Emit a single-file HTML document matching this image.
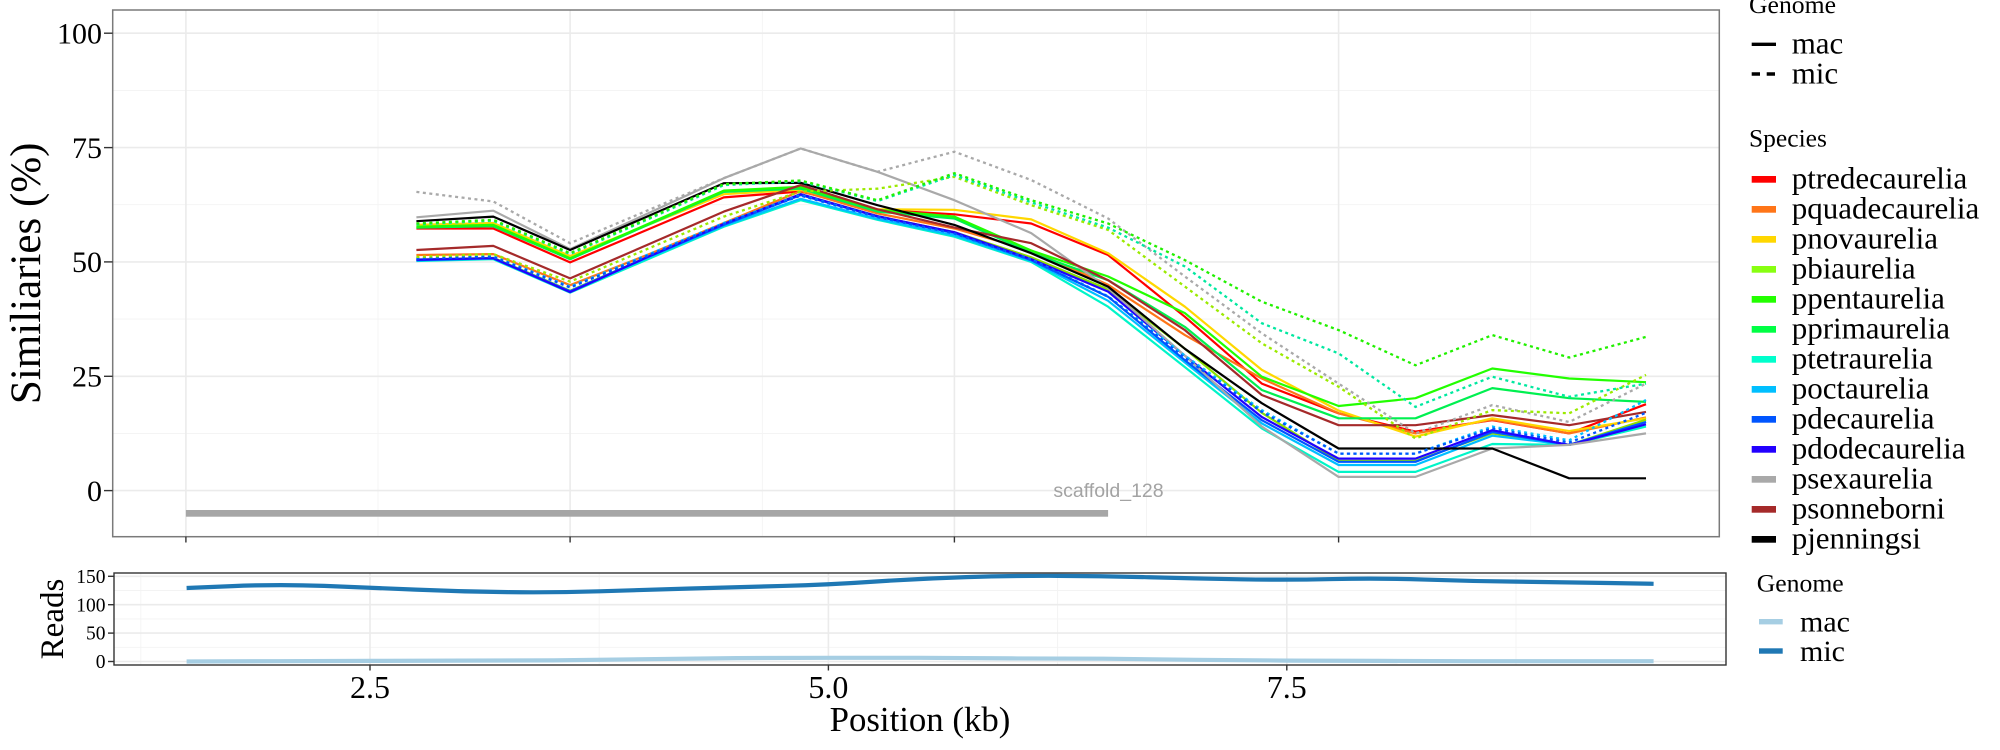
<!DOCTYPE html>
<html><head><meta charset="utf-8"><style>
html,body{margin:0;padding:0;background:#fff;}
svg{display:block;}
text{font-family:"Liberation Serif",serif;fill:#000;}
</style></head><body>
<svg width="2000" height="750" viewBox="0 0 2000 750" xmlns="http://www.w3.org/2000/svg">
<rect width="2000" height="750" fill="#fff"/>
<!-- TOP PANEL -->
<rect x="112.7" y="10" width="1606.6" height="526.7" fill="#fff"/>
<g stroke="#F3F3F3" stroke-width="0.9">
<line x1="112.7" x2="1719.3" y1="433.4" y2="433.4"/><line x1="112.7" x2="1719.3" y1="319.1" y2="319.1"/>
<line x1="112.7" x2="1719.3" y1="204.7" y2="204.7"/><line x1="112.7" x2="1719.3" y1="90.4" y2="90.4"/>
<line x1="378" x2="378" y1="10" y2="536.7"/><line x1="762.3" x2="762.3" y1="10" y2="536.7"/>
<line x1="1146.5" x2="1146.5" y1="10" y2="536.7"/><line x1="1530.7" x2="1530.7" y1="10" y2="536.7"/>
</g>
<g stroke="#EBEBEB" stroke-width="1.6">
<line x1="112.7" x2="1719.3" y1="490.6" y2="490.6"/><line x1="112.7" x2="1719.3" y1="376.3" y2="376.3"/>
<line x1="112.7" x2="1719.3" y1="261.9" y2="261.9"/><line x1="112.7" x2="1719.3" y1="147.6" y2="147.6"/>
<line x1="112.7" x2="1719.3" y1="33.2" y2="33.2"/>
<line x1="185.9" x2="185.9" y1="10" y2="536.7"/><line x1="570.1" x2="570.1" y1="10" y2="536.7"/>
<line x1="954.4" x2="954.4" y1="10" y2="536.7"/><line x1="1338.6" x2="1338.6" y1="10" y2="536.7"/>
</g>
<rect x="185.9" y="510" width="922.2" height="6.7" fill="#A6A6A6"/>
<text x="1108.5" y="497" text-anchor="middle" style="font-family:'Liberation Sans',sans-serif;font-size:19.5px;fill:#A3A3A3">scaffold_128</text>
<g fill="none" stroke-width="2.2" stroke-linejoin="round">
<polyline stroke="#FF0000" points="416.4,228.5 493.3,228.5 570.1,262.4 647,229.9 723.8,197.4 800.7,191.5 877.5,209.8 954.4,214.3 1031.2,223.5 1108.1,255 1184.9,316.8 1261.8,383.6 1338.6,413.3 1415.5,431.6 1492.3,420.2 1569.2,433.4 1646,404.2"/>
<polyline stroke="#FF7518" points="416.4,255 493.3,254.1 570.1,285.2 647,255 723.8,223 800.7,191 877.5,213.4 954.4,228.5 1031.2,250.5 1108.1,284.8 1184.9,335.1 1261.8,378.5 1338.6,413.3 1415.5,433.4 1492.3,419.7 1569.2,433.4 1646,417.4"/>
<polyline stroke="#FFD700" points="416.4,224.9 493.3,223 570.1,256 647,225.3 723.8,194.2 800.7,189.6 877.5,209.3 954.4,209.8 1031.2,219.4 1108.1,253.2 1184.9,306.7 1261.8,369.9 1338.6,410.6 1415.5,436.6 1492.3,418.3 1569.2,431.1 1646,418.3"/>
<polyline stroke="#8CE000" points="416.4,259.6 493.3,257.8 570.1,290.7 647,257.3 723.8,223.9 800.7,194.2 877.5,216.2 954.4,232.2 1031.2,257.3 1108.1,289.3 1184.9,348.8 1261.8,412.8 1338.6,460.9 1415.5,460.9 1492.3,433.4 1569.2,444.9 1646,419.7"/>
<polyline stroke="#00F050" points="416.4,227.6 493.3,226.2 570.1,259.2 647,225.3 723.8,191.9 800.7,188.7 877.5,211.6 954.4,218.5 1031.2,252.8 1108.1,280.2 1184.9,326.9 1261.8,390 1338.6,418.3 1415.5,418.3 1492.3,388.1 1569.2,398.2 1646,401.9"/>
<polyline stroke="#22FF00" points="416.4,226.7 493.3,224.9 570.1,258.2 647,224.4 723.8,190.6 800.7,186.9 877.5,209.8 954.4,216.6 1031.2,250.5 1108.1,276.5 1184.9,313.1 1261.8,376.7 1338.6,406 1415.5,398.2 1492.3,368.5 1569.2,378.5 1646,382.2"/>
<polyline stroke="#00F5C8" points="416.4,261 493.3,259.2 570.1,292.6 647,259.6 723.8,226.7 800.7,200.2 877.5,219.8 954.4,236.7 1031.2,261.9 1108.1,306.7 1184.9,367.1 1261.8,428.4 1338.6,471.9 1415.5,471.9 1492.3,444 1569.2,444.9 1646,426.6"/>
<polyline stroke="#00BFFF" points="416.4,260.5 493.3,258.7 570.1,291.6 647,258.2 723.8,225.8 800.7,198.8 877.5,218.9 954.4,235.4 1031.2,261 1108.1,300.8 1184.9,362.5 1261.8,423.4 1338.6,465 1415.5,465 1492.3,435.7 1569.2,444.9 1646,422"/>
<polyline stroke="#0055FF" points="416.4,260.1 493.3,258.2 570.1,291.2 647,257.3 723.8,224.9 800.7,195.1 877.5,216.6 954.4,233.1 1031.2,260.1 1108.1,296.7 1184.9,360.2 1261.8,420.2 1338.6,461.8 1415.5,461.8 1492.3,432.1 1569.2,444.9 1646,422"/>
<polyline stroke="#2200FF" points="416.4,259.6 493.3,258.2 570.1,292.1 647,257.3 723.8,223.9 800.7,194.2 877.5,216.2 954.4,232.2 1031.2,259.2 1108.1,291.6 1184.9,355.7 1261.8,417 1338.6,458.6 1415.5,458.6 1492.3,430.2 1569.2,444.9 1646,424.3"/>
<polyline stroke="#A9A9A9" points="416.4,217.3 493.3,210.7 570.1,249.1 647,213.9 723.8,178.2 800.7,148.5 877.5,171.8 954.4,200.2 1031.2,233.1 1108.1,288 1184.9,355.7 1261.8,426.6 1338.6,476.9 1415.5,476.9 1492.3,448.5 1569.2,444.9 1646,433.4"/>
<polyline stroke="#A52A2A" points="416.4,250 493.3,245.9 570.1,278.4 647,245 723.8,211.6 800.7,185.1 877.5,209.3 954.4,227.6 1031.2,243.2 1108.1,280.2 1184.9,330.1 1261.8,395 1338.6,425.2 1415.5,425.2 1492.3,415.1 1569.2,425.2 1646,411.9"/>
<polyline stroke="#000000" points="416.4,221.2 493.3,216.6 570.1,250 647,216.6 723.8,183.2 800.7,182.8 877.5,205.2 954.4,224.9 1031.2,253.2 1108.1,286.6 1184.9,348.8 1261.8,403.2 1338.6,448.5 1415.5,448.5 1492.3,448.5 1569.2,478.3 1646,478.3"/>
</g>
<g fill="none" stroke-width="2.3" stroke-dasharray="3 3.5">
<polyline stroke="#A9A9A9" points="416.4,191.9 493.3,201.5 570.1,243.2 647,210.7 723.8,178.2 800.7,148.5 877.5,171.8 954.4,151.7 1031.2,180 1108.1,218.5 1184.9,276.5 1261.8,333.3 1338.6,383.6 1415.5,433.4 1492.3,405.1 1569.2,422 1646,383.6"/>
<polyline stroke="#00BFFF" points="416.4,258.2 493.3,256.4 570.1,286.6 647,255 723.8,223 800.7,195.1 877.5,217.1 954.4,234.5 1031.2,259.6 1108.1,296.2 1184.9,355.7 1261.8,410.1 1338.6,453.6 1415.5,453.6 1492.3,426.6 1569.2,440.3 1646,400"/>
<polyline stroke="#0055FF" points="416.4,258.2 493.3,256.9 570.1,287.5 647,256 723.8,223.9 800.7,195.6 877.5,217.1 954.4,233.5 1031.2,260.1 1108.1,296.7 1184.9,358 1261.8,411.9 1338.6,453.6 1415.5,453.6 1492.3,428.4 1569.2,442.6 1646,412.8"/>
<polyline stroke="#9BEA00" points="416.4,256.9 493.3,254.1 570.1,281.6 647,249.1 723.8,216.6 800.7,191.5 877.5,188.7 954.4,176.8 1031.2,205.2 1108.1,229.9 1184.9,286.6 1261.8,343.3 1338.6,386.8 1415.5,438.5 1492.3,410.1 1569.2,413.3 1646,374.9"/>
<polyline stroke="#00E8A0" points="416.4,224.4 493.3,220.7 570.1,254.1 647,219.8 723.8,185.1 800.7,181.4 877.5,201.1 954.4,175 1031.2,202.4 1108.1,227.6 1184.9,266.5 1261.8,323.2 1338.6,353.4 1415.5,406.9 1492.3,376.7 1569.2,396.8 1646,383.6"/>
<polyline stroke="#22F000" points="416.4,223.5 493.3,219.8 570.1,253.2 647,218.9 723.8,184.1 800.7,180.5 877.5,200.2 954.4,173.2 1031.2,200.2 1108.1,223.5 1184.9,260.1 1261.8,301.7 1338.6,330.1 1415.5,365.3 1492.3,335.1 1569.2,357.5 1646,336.9"/>
</g>
<rect x="112.7" y="10" width="1606.6" height="526.7" fill="none" stroke="#7A7A7A" stroke-width="1.5"/>
<g stroke="#333" stroke-width="1.4">
<line x1="104" x2="112.7" y1="490.6" y2="490.6"/><line x1="104" x2="112.7" y1="376.3" y2="376.3"/>
<line x1="104" x2="112.7" y1="261.9" y2="261.9"/><line x1="104" x2="112.7" y1="147.6" y2="147.6"/>
<line x1="104" x2="112.7" y1="33.2" y2="33.2"/>
<line x1="185.9" x2="185.9" y1="536.7" y2="542.5"/><line x1="570.1" x2="570.1" y1="536.7" y2="542.5"/>
<line x1="954.4" x2="954.4" y1="536.7" y2="542.5"/><line x1="1338.6" x2="1338.6" y1="536.7" y2="542.5"/>
</g>
<g style="font-size:30px" text-anchor="end">
<text x="102" y="43.4">100</text><text x="102" y="157.8">75</text><text x="102" y="272.1">50</text>
<text x="102" y="386.4">25</text><text x="102" y="500.8">0</text>
</g>
<text transform="translate(40,273.3) rotate(-90)" text-anchor="middle" style="font-size:43px">Similiaries (%)</text>

<!-- BOTTOM PANEL -->
<g stroke="#F3F3F3" stroke-width="0.9">
<line x1="114" x2="1726" y1="647.3" y2="647.3"/><line x1="114" x2="1726" y1="618.9" y2="618.9"/><line x1="114" x2="1726" y1="590.5" y2="590.5"/>
<line x1="140.8" x2="140.8" y1="573" y2="665"/><line x1="599.2" x2="599.2" y1="573" y2="665"/>
<line x1="1057.6" x2="1057.6" y1="573" y2="665"/><line x1="1516" x2="1516" y1="573" y2="665"/>
</g>
<g stroke="#EBEBEB" stroke-width="1.6">
<line x1="114" x2="1726" y1="661.5" y2="661.5"/><line x1="114" x2="1726" y1="633.1" y2="633.1"/>
<line x1="114" x2="1726" y1="604.7" y2="604.7"/><line x1="114" x2="1726" y1="576.3" y2="576.3"/>
<line x1="370" x2="370" y1="573" y2="665"/><line x1="828.4" x2="828.4" y1="573" y2="665"/><line x1="1286.8" x2="1286.8" y1="573" y2="665"/>
</g>
<path fill="none" stroke="#A6CEE3" stroke-width="4.2" stroke-linejoin="round" stroke-linecap="butt" d="M186.6,661.5 L278.3,661.2 L370,660.9 L461.7,660.6 L553.4,660.4 L645,659.2 L736.7,658.1 L828.4,657.8 L920.1,657.8 L1011.8,658.4 L1103.4,658.7 L1195.1,659.8 L1286.8,660.6 L1378.5,660.9 L1470.2,661.2 L1561.9,661.2 L1653.6,661.2"/>
<path fill="none" stroke="#1F78B4" stroke-width="4.2" stroke-linejoin="round" d="M186.6,588 L232.45,586.1 Q278.3,584.2 324.15,585.9 Q370,587.6 415.85,589.6 Q461.7,591.6 507.55,592.15 Q553.4,592.7 599.2,591.3 Q645,589.9 690.85,588.5 Q736.7,587.1 782.55,585.95 Q828.4,584.8 874.25,581.65 Q920.1,578.5 965.95,577.1 Q1011.8,575.7 1057.6,575.85 Q1103.4,576 1149.25,577.25 Q1195.1,578.5 1240.95,579.3 Q1286.8,580.1 1332.65,579.05 Q1378.5,578 1424.35,579.55 Q1470.2,581.1 1516.05,581.65 Q1561.9,582.2 1607.75,583 L1653.6,583.8"/>
<rect x="114" y="573" width="1612" height="92" fill="none" stroke="#333" stroke-width="1.4"/>
<g stroke="#333" stroke-width="1.4">
<line x1="108" x2="114" y1="661.5" y2="661.5"/><line x1="108" x2="114" y1="633.1" y2="633.1"/>
<line x1="108" x2="114" y1="604.7" y2="604.7"/><line x1="108" x2="114" y1="576.3" y2="576.3"/>
<line x1="370" x2="370" y1="665" y2="670.5"/><line x1="828.4" x2="828.4" y1="665" y2="670.5"/><line x1="1286.8" x2="1286.8" y1="665" y2="670.5"/>
</g>
<g style="font-size:19.5px" text-anchor="end">
<text x="105.5" y="582.9">150</text><text x="105.5" y="611.3">100</text><text x="105.5" y="639.7">50</text><text x="105.5" y="668.1">0</text>
</g>
<text transform="translate(63,619) rotate(-90)" text-anchor="middle" style="font-size:33px">Reads</text>
<g style="font-size:32px" text-anchor="middle">
<text x="370" y="698">2.5</text><text x="828.4" y="698">5.0</text><text x="1286.8" y="698">7.5</text>
</g>
<text x="920" y="731" text-anchor="middle" style="font-size:34.8px">Position (kb)</text>

<!-- LEGENDS -->
<text x="1749" y="13" style="font-size:25.7px">Genome</text>
<line x1="1751.7" x2="1776" y1="44.3" y2="44.3" stroke="#000" stroke-width="3.4"/>
<line x1="1751.7" x2="1776" y1="74" y2="74" stroke="#000" stroke-width="3.4" stroke-dasharray="8.3 6.7"/>
<g style="font-size:31px">
<text x="1791.7" y="53.3">mac</text><text x="1791.7" y="83.3">mic</text>
</g>
<text x="1749" y="146.7" style="font-size:25.5px">Species</text>
<g>
<rect x="1751.7" y="176" width="24.3" height="6.7" fill="#FF0000"/>
<rect x="1751.7" y="206" width="24.3" height="6.7" fill="#FF7518"/>
<rect x="1751.7" y="236" width="24.3" height="6.7" fill="#FFD700"/>
<rect x="1751.7" y="266" width="24.3" height="6.7" fill="#88FF11"/>
<rect x="1751.7" y="296" width="24.3" height="6.7" fill="#22FF00"/>
<rect x="1751.7" y="326" width="24.3" height="6.7" fill="#00FF44"/>
<rect x="1751.7" y="356" width="24.3" height="6.7" fill="#00FFCC"/>
<rect x="1751.7" y="386" width="24.3" height="6.7" fill="#00BFFF"/>
<rect x="1751.7" y="416" width="24.3" height="6.7" fill="#0055FF"/>
<rect x="1751.7" y="446" width="24.3" height="6.7" fill="#2200FF"/>
<rect x="1751.7" y="476" width="24.3" height="6.7" fill="#A9A9A9"/>
<rect x="1751.7" y="506" width="24.3" height="6.7" fill="#A52A2A"/>
<rect x="1751.7" y="536" width="24.3" height="6.7" fill="#000000"/>
</g>
<g style="font-size:31px">
<text x="1791.7" y="188.3">ptredecaurelia</text>
<text x="1791.7" y="218.3">pquadecaurelia</text>
<text x="1791.7" y="248.3">pnovaurelia</text>
<text x="1791.7" y="278.3">pbiaurelia</text>
<text x="1791.7" y="308.3">ppentaurelia</text>
<text x="1791.7" y="338.3">pprimaurelia</text>
<text x="1791.7" y="368.3">ptetraurelia</text>
<text x="1791.7" y="398.3">poctaurelia</text>
<text x="1791.7" y="428.3">pdecaurelia</text>
<text x="1791.7" y="458.3">pdodecaurelia</text>
<text x="1791.7" y="488.3">psexaurelia</text>
<text x="1791.7" y="518.3">psonneborni</text>
<text x="1791.7" y="548.3">pjenningsi</text>
</g>
<text x="1756.7" y="591.7" style="font-size:25.7px">Genome</text>
<rect x="1759" y="619" width="23.7" height="5.4" fill="#A6CEE3"/>
<rect x="1759" y="648.3" width="23.7" height="5.4" fill="#1F78B4"/>
<g style="font-size:30px">
<text x="1800" y="631.7">mac</text><text x="1800" y="661">mic</text>
</g>
</svg>
</body></html>
